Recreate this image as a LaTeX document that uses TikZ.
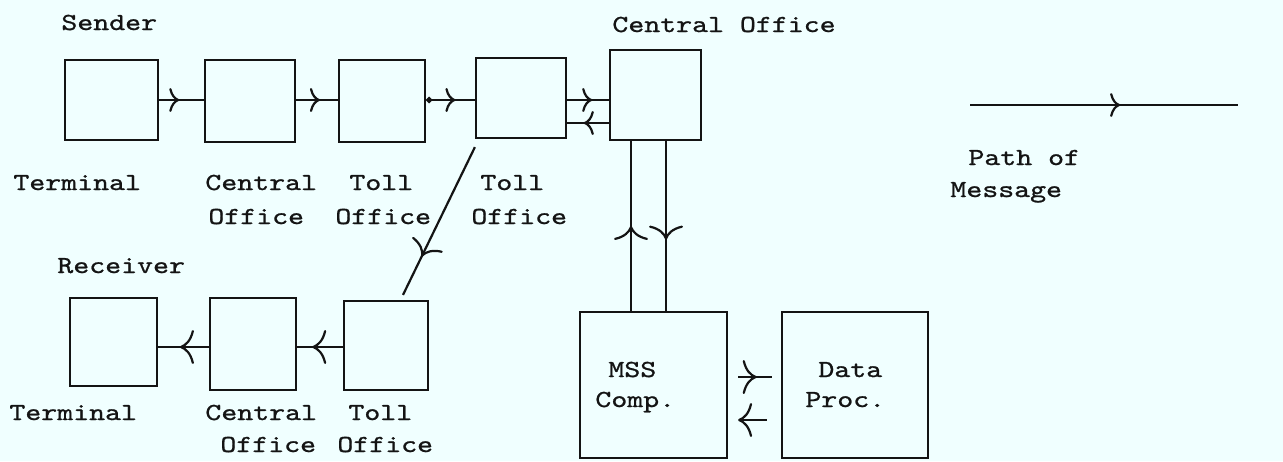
\documentclass[tikz,border=0pt]{standalone}
\usepackage{fontspec}
\usetikzlibrary{arrows.meta,decorations.markings,fit,calc}
\newfontfamily\twf{lmmono10-regular.otf}[FakeStretch=1.24, FakeBold=0.9]
\definecolor{bgc}{RGB}{240,255,255}
\definecolor{ink}{RGB}{20,20,20}
\begin{document}
\begin{tikzpicture}[x=0.5pt,y=-0.5pt,
  box/.style={draw=ink, line width=1.1pt, inner sep=0pt},
  conn/.style={draw=ink, line width=1.1pt},
  cms/.tip={Computer Modern Rightarrow[length=5pt,width=12pt]},
  cml/.tip={Computer Modern Rightarrow[length=7pt,width=17pt]},
  mid/.style={postaction={decorate}, decoration={markings, mark=at position #1 with {\arrow{cms}}}},
  midl/.style={postaction={decorate}, decoration={markings, mark=at position #1 with {\arrow{cml}}}},
  lbl/.style={anchor=base west, inner sep=0pt, text=ink, font=\twf\fontsize{12.25pt}{14pt}\selectfont}]
\fill[bgc] (0,0) rectangle (1283,461);
\useasboundingbox (0,0) rectangle (1283,461);
% boxes
\node[box, fit={(65,60) (158,140)}] (t1) {};
\node[box, fit={(205,60) (295,142)}] (t2) {};
\node[box, fit={(339,60) (425,142)}] (t3) {};
\node[box, fit={(476,58) (566,138)}] (t4) {};
\node[box, fit={(610,50) (701,140)}] (t5) {};
\node[box, fit={(70,298) (157,386)}] (b1) {};
\node[box, fit={(210,298) (296,390)}] (b2) {};
\node[box, fit={(344,301) (428,390)}] (b3) {};
\node[box, fit={(580,312) (727,458)}] (mss) {};
\node[box, fit={(782,312) (928,458)}] (dp) {};
% helper coordinates
\coordinate (yA) at (0,100);
\coordinate (yB) at (0,123);
\coordinate (yC) at (0,347);
\coordinate (vL) at (631,0);
\coordinate (vR) at (666,0);
\coordinate (L1) at (970,105);
\coordinate (L2) at (1238,105);
% connectors top row
\draw[conn, mid=0.45] (t1.east |- yA) -- (t2.west |- yA);
\draw[conn, mid=0.57] (t2.east |- yA) -- (t3.west |- yA);
\draw[conn, {Circle[length=3pt]}-, mid=0.6] (t3.east |- yA) -- (t4.west |- yA);
\draw[conn, mid=0.6] (t4.east |- yA) -- (t5.west |- yA);
\draw[conn, mid=0.6] (t5.west |- yB) -- (t4.east |- yB);
% verticals
\draw[conn, midl=0.5] (mss.north -| vL) -- (t5.south -| vL);
\draw[conn, midl=0.58] (t5.south -| vR) -- (mss.north -| vR);
% diagonal
\draw[conn, midl=0.74] ($(t4.south west)+(0,8)$) -- ($(b3.north)+(17,-5)$);
% bottom row
\draw[conn, midl=0.67] (b3.west |- yC) -- (b2.east |- yC);
\draw[conn, midl=0.57] (b2.west |- yC) -- (b1.east |- yC);
% MSS / Data
\draw[conn, midl=0.55] ($(mss.east)+(10,-8)$) -- ($(dp.west)+(-9,-8)$);
\draw[conn, -cml] ($(dp.west)+(-14,35)$) -- ($(mss.east)+(10,35)$);
% legend
\draw[conn, mid=0.56] (L1) -- (L2);
% labels
\node[lbl] (lSender) at (61,30) {Sender};
\node[lbl] (lCO) at (612,32) {Central Office};
\node[lbl] (lT1) at (13,190) {Terminal};
\node[lbl] (lC1) at (205,190) {Central};
\node[lbl] (lTo1) at (349,190) {Toll};
\node[lbl] (lTo2) at (480,190) {Toll};
\node[lbl] (lO1) at (208,224) {Office};
\node[lbl] (lO2) at (335,224) {Office};
\node[lbl] (lO3) at (471,224) {Office};
\node[lbl] (lPath) at (968,165) {Path of};
\node[lbl] (lMsg) at (950,197) {Message};
\node[lbl] (lRec) at (57,273) {Receiver};
\node[lbl] (lT2) at (9,420) {Terminal};
\node[lbl] (lC2) at (205,420) {Central};
\node[lbl] (lTo3) at (348,420) {Toll};
\node[lbl] (lO4) at (220,452) {Office};
\node[lbl] (lO5) at (337,452) {Office};
\node[lbl] (lMSS) at (608,377) {MSS};
\node[lbl] (lComp) at (595,407) {Comp.};
\node[lbl] (lData) at (818,377) {Data};
\node[lbl] (lProc) at (805,407) {Proc.};
\end{tikzpicture}
\end{document}
